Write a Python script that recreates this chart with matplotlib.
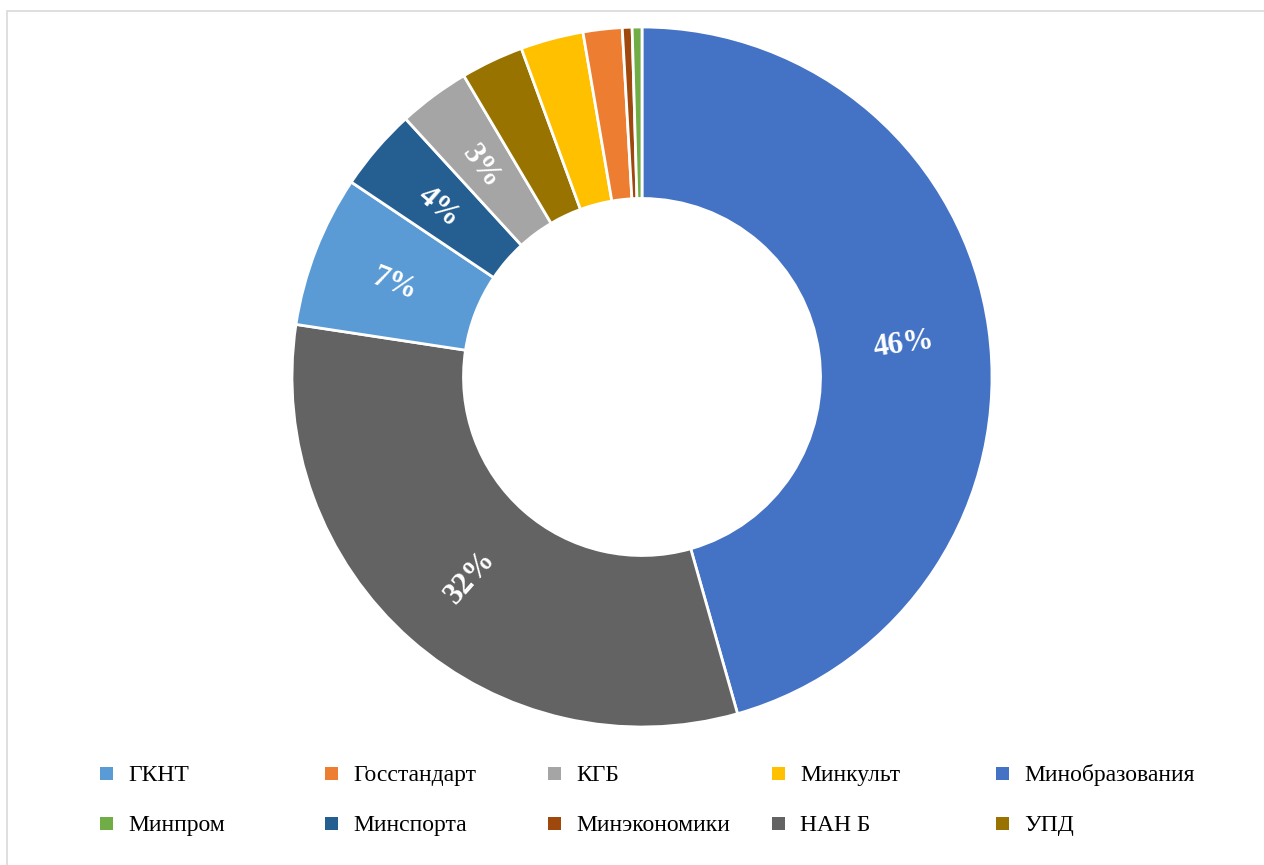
import numpy as np
import matplotlib
matplotlib.use("Agg")
import matplotlib.pyplot as plt
from matplotlib.patches import Rectangle

# Data (clockwise from 12 o'clock)
categories = ["Минобразования", "НАН Б", "ГКНТ", "Минспорта", "КГБ",
              "УПД", "Минкульт", "Госстандарт", "Минэкономики", "Минпром"]
values = [45.6, 31.8, 7.0, 3.8, 3.3, 2.9, 2.9, 1.8, 0.45, 0.45]
pct_labels = ["46%", "32%", "7%", "4%", "3%", "", "", "", "", ""]
colors = {
    "ГКНТ": "#5B9BD5", "Госстандарт": "#ED7D31", "КГБ": "#A5A5A5",
    "Минкульт": "#FFC000", "Минобразования": "#4472C4", "Минпром": "#70AD47",
    "Минспорта": "#255E91", "Минэкономики": "#9E480E", "НАН Б": "#636363",
    "УПД": "#997300",
}
legend_order = ["ГКНТ", "Госстандарт", "КГБ", "Минкульт", "Минобразования",
                "Минпром", "Минспорта", "Минэкономики", "НАН Б", "УПД"]

W, H = 1264, 865
fig = plt.figure(figsize=(W / 100, H / 100), dpi=100)
serif = ["Liberation Serif", "DejaVu Serif"]

# chart-area border
fig.add_artist(Rectangle((7 / W, -0.05), 1.1, 1 - 11 / H + 0.05,
                         transform=fig.transFigure, fill=False,
                         edgecolor="#D9D9D9", linewidth=1.2))

cx, cy, R = 642, 377, 350
ax = fig.add_axes([(cx - R) / W, (H - cy - R) / H, 2 * R / W, 2 * R / H])
ring = 0.49
wedges, _ = ax.pie(values, colors=[colors[c] for c in categories],
                   startangle=90, counterclock=False, radius=1.0,
                   wedgeprops=dict(width=ring, edgecolor="white", linewidth=2.0))
ax.set_xlim(-1, 1)
ax.set_ylim(-1, 1)
ax.set_aspect("equal")
ax.axis("off")

rlab = 1 - ring / 2
for w, lab in zip(wedges, pct_labels):
    if not lab:
        continue
    th = (w.theta1 + w.theta2) / 2
    t = np.deg2rad(th)
    rot = th % 360
    if 90 < rot <= 270:
        rot -= 180
    elif rot > 270:
        rot -= 360
    ax.text(rlab * np.cos(t), rlab * np.sin(t), lab, ha="center",
            va="center_baseline", rotation=rot, rotation_mode="anchor",
            color="white", fontsize=22, fontweight="bold", family=serif)

# legend, 2 rows x 5 columns
col_x = [100, 325, 548, 772, 996]
row_y = [773, 823]
sq = 13
for i, name in enumerate(legend_order):
    r, c = divmod(i, 5)
    x, y = col_x[c], row_y[r]
    fig.add_artist(Rectangle((x / W, (H - y - sq / 2) / H), sq / W, sq / H,
                             transform=fig.transFigure,
                             facecolor=colors[name], edgecolor="none"))
    fig.text((x + 28) / W, (H - y) / H, name, ha="left", va="center_baseline",
             fontsize=17, family=serif, color="#000000")

fig.savefig("out.png", dpi=100)
